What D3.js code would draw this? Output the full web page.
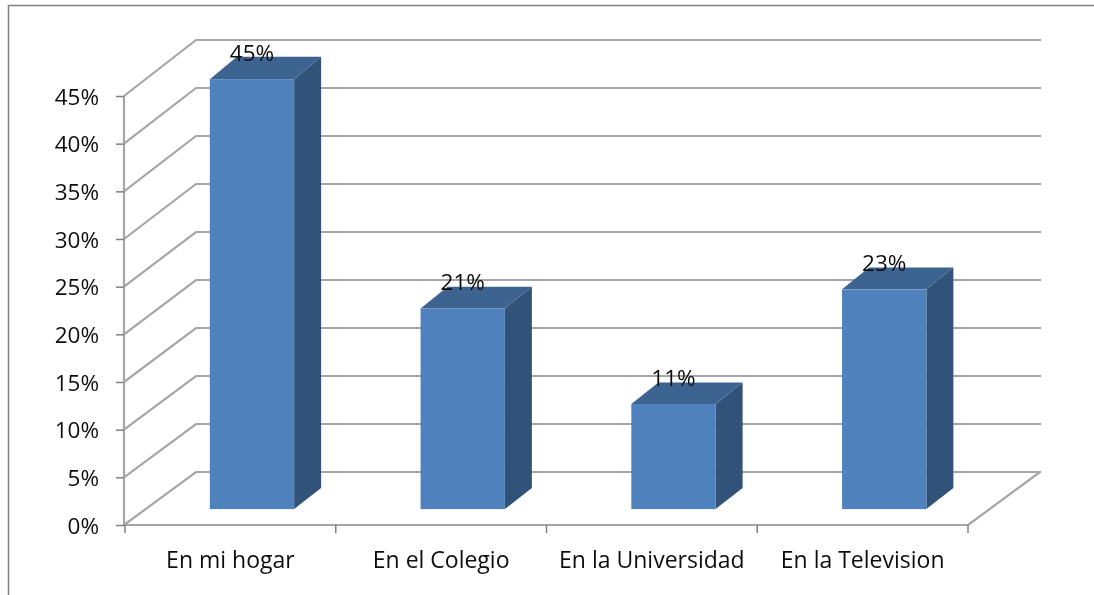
<!DOCTYPE html>
<html lang="es">
<head>
<meta charset="UTF-8">
<title>Grafico de barras 3D</title>
<script src="https://d3js.org/d3.v7.min.js"></script>
<style>
  html, body { margin: 0; padding: 0; background: #fff; }
  svg { display: block; }
  text { font-family: "Open Sans", Lato, sans-serif; fill: #111; }
</style>
</head>
<body>
<div id="chart"></div>
<script>
const categories = ["En mi hogar", "En el Colegio", "En la Universidad", "En la Television"];
const values = [45, 21, 11, 23];
const yTicks = [0, 5, 10, 15, 20, 25, 30, 35, 40, 45];

const width = 1094, height = 595;
const fontSize = 22.5;
const labelSize = 23;
const gridColor = "#a6a6a6";

const svg = d3.select("#chart").append("svg")
    .attr("width", width)
    .attr("height", height)
    .attr("viewBox", [0, 0, width, height]);

// the reference is a slightly soft screenshot
svg.append("defs").append("filter").attr("id", "soft")
    .append("feGaussianBlur").attr("stdDeviation", 0.6);

const root = svg.append("g").attr("filter", "url(#soft)");

// outer frame: top and left only
root.append("path")
    .attr("d", `M8.5,${height}V5.5H${width}`)
    .attr("fill", "none")
    .attr("stroke", "#808080")
    .attr("stroke-width", 1.5);

// front plane and back wall of the 3d box
const yFront = d3.scaleLinear().domain([0, 45]).range([525, 96]);
const yBack = d3.scaleLinear().domain([0, 45]).range([472, 40]);
const xFront = d3.scaleBand().domain(categories).range([125, 968]);
const bars = d3.scaleBand().domain(categories).range([125, 968])
    .paddingInner(0.6).paddingOuter(0.3);
const backDx = 72;

const grid = root.append("g")
    .attr("fill", "none")
    .attr("stroke", gridColor)
    .attr("stroke-width", 2.2);

grid.selectAll("path")
    .data(yTicks)
    .join("path")
    .attr("d", d => `M124,${yFront(d)}L${124 + backDx},${yBack(d)}H${968 + backDx + 1}`);

// floor edge on the right side
grid.append("path")
    .attr("d", `M968,${yFront(0)}L${968 + backDx},${yBack(0)}`);

// front edges + axes
const yAxis = d3.axisLeft(yFront)
    .tickValues(yTicks)
    .tickFormat(d => d + "%")
    .tickSize(8)
    .tickPadding(17);

const gy = root.append("g").attr("transform", "translate(124,0)").call(yAxis);
gy.select(".domain").attr("stroke", gridColor).attr("stroke-width", 2.2).attr("d", `M0,${yFront(45)}V${yFront(0)}`);
gy.selectAll(".tick line").attr("stroke", "#808080").attr("stroke-width", 1.5);
gy.selectAll(".tick text").style("font-size", fontSize + "px").attr("dy", "0.36em");

const xAxis = d3.axisBottom(xFront).tickSize(0).tickPadding(27);
const gx = root.append("g").attr("transform", `translate(0,${yFront(0)})`).call(xAxis);
gx.select(".domain").attr("stroke", gridColor).attr("stroke-width", 2.2).attr("d", "M124,0H968");
gx.selectAll(".tick text").style("font-size", labelSize + "px");

// x tick marks sit on the category boundaries
root.append("g").selectAll("line")
    .data(categories.concat(["end"]))
    .join("line")
    .attr("x1", (d, i) => 125 + i * xFront.step())
    .attr("x2", (d, i) => 125 + i * xFront.step())
    .attr("y1", yFront(0))
    .attr("y2", yFront(0) + 8)
    .attr("stroke", "#808080")
    .attr("stroke-width", 1.5);

// bars: depth positions between front plane (0) and back wall (1)
const tFront = 0.3, tBack = 0.7;
const xShiftFront = 21.6, xShiftBack = 48.6;
const yAt = (v, t) => (1 - t) * yFront(v) + t * yBack(v);

const bar = root.append("g").selectAll("g")
    .data(categories.map((c, i) => ({ c, v: values[i] })))
    .join("g");

bar.append("path") // side
    .attr("fill", "#335379")
    .attr("d", d => {
      const r0 = bars(d.c) + bars.bandwidth() + xShiftFront;
      const r1 = bars(d.c) + bars.bandwidth() + xShiftBack;
      return `M${r0},${yAt(d.v, tFront)}L${r1},${yAt(d.v, tBack)}V${yAt(0, tBack)}L${r0},${yAt(0, tFront)}Z`;
    });

bar.append("path") // top
    .attr("fill", "#3e6391")
    .attr("d", d => {
      const x0 = bars(d.c) + xShiftFront, x1 = bars(d.c) + xShiftBack, w = bars.bandwidth();
      return `M${x0},${yAt(d.v, tFront)}L${x1},${yAt(d.v, tBack)}H${x1 + w}L${x0 + w},${yAt(d.v, tFront)}Z`;
    });

bar.append("rect") // front
    .attr("fill", "#4f81bd")
    .attr("x", d => bars(d.c) + xShiftFront)
    .attr("y", d => yAt(d.v, tFront))
    .attr("width", bars.bandwidth())
    .attr("height", d => yAt(0, tFront) - yAt(d.v, tFront));

bar.append("text")
    .attr("text-anchor", "middle")
    .style("font-size", fontSize + "px")
    .attr("x", d => bars(d.c) + xShiftFront + bars.bandwidth() / 2)
    .attr("y", d => yAt(d.v, tFront) - 18)
    .text(d => d.v + "%");
</script>
</body>
</html>
